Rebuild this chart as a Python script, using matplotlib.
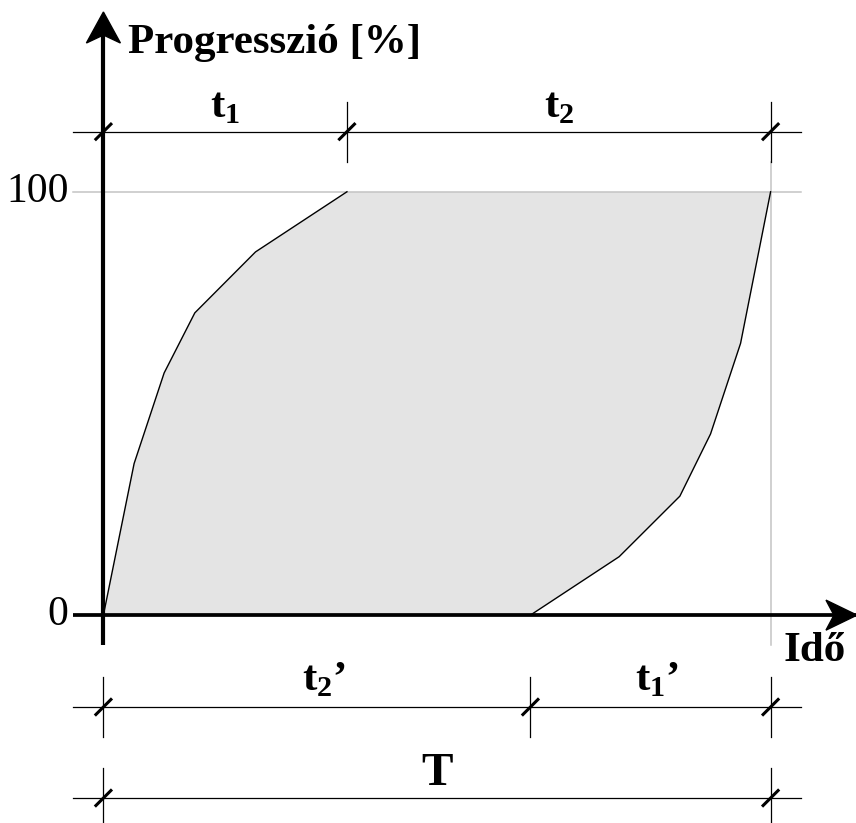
import matplotlib
matplotlib.use("Agg")
import matplotlib.pyplot as plt
import matplotlib.transforms as mtransforms
from matplotlib.patches import Polygon

plt.rcParams['font.family'] = ['Liberation Serif', 'DejaVu Serif']
plt.rcParams['mathtext.fontset'] = 'custom'
plt.rcParams['mathtext.rm'] = 'Liberation Serif'
plt.rcParams['mathtext.bf'] = 'Liberation Serif:bold'

# fast progress curve (upper edge), time in % of T, progress in %
upper_x = [0, 4.6, 9.1, 13.7, 22.8, 36.5]
upper_y = [0, 35.8, 57.2, 71.4, 85.8, 100]
# slow progress curve (lower edge)
lower_x = [64.0, 77.3, 86.4, 91.0, 95.5, 100]
lower_y = [0, 13.8, 28.1, 42.8, 64.2, 100]

y_ticks = [0, 100]
y_label = 'Progresszió [%]'
x_label = 'Idő'
T = 100
t1 = upper_x[-1]
t2p = lower_x[0]

W, H = 856, 823
fig = plt.figure(figsize=(W / 100, H / 100), dpi=100)
ax = fig.add_axes([0, 0, 1, 1])
ax.set_axis_off()
xmin, xmax = -15.5, 112.8
ymin, ymax = -49.1, 145.3
ax.set_xlim(xmin, xmax)
ax.set_ylim(ymin, ymax)

# pixel -> data helpers
px_x = (xmax - xmin) / W
px_y = (ymax - ymin) / H
ext = 30  # px overhang of construction lines

# shaded band between the two curves
poly_x = upper_x + [T] + lower_x[::-1]
poly_y = upper_y + [100] + lower_y[::-1]
ax.fill(poly_x, poly_y, color='#e4e4e4', lw=0, zorder=1)

gray = '#c4c4c4'
ax.plot([-ext * px_x, T + ext * px_x], [100, 100], color=gray, lw=1.1, zorder=2)

top_dim = 114.2
mid_dim = -21.7
bot_dim = -43.2
ax.plot([T, T], [-ext * px_y, top_dim - ext * px_y], color=gray, lw=1.1, zorder=2)

ax.plot(upper_x, upper_y, color='black', lw=1.0, zorder=3)
ax.plot(lower_x, lower_y, color='black', lw=1.0, zorder=3)

# main axes
ax.plot([-ext * px_x, T + 112], [0, 0], color='black', lw=2.7, zorder=4, solid_capstyle='butt')
ax.plot([0, 0], [-ext * px_y, ymax - 35 * px_y], color='black', lw=3.0, zorder=4, solid_capstyle='butt')


def arrow_head(x, y, direction):
    # notched arrow head, vertices in px relative to the tip
    if direction == 'up':
        verts = [(0, 0), (-17, -31), (0, -23), (17, -31)]
    else:
        verts = [(0, 0), (-31, 15), (-23, 0), (-31, -15)]
    tr = mtransforms.Affine2D().scale(1.0) + mtransforms.ScaledTranslation(x, y, ax.transData)
    ax.add_patch(Polygon(verts, closed=True, color='black', transform=tr, zorder=5))


arrow_head(0, ymax - 12 * px_y, 'up')
arrow_head(xmax + 1 * px_x, 0, 'right')

for v in y_ticks:
    ax.annotate(str(v), xy=(0, v), xytext=(-25, 0), textcoords='offset points',
                ha='right', va='center', fontsize=30)

ax.text(3.7, 132.7, y_label, fontsize=31, fontweight='bold', ha='left', va='baseline')
ax.text(102.0, -10.8, x_label, fontsize=31, fontweight='bold', ha='left', va='baseline')


def dim_line(y, marks, extend_marks):
    ax.plot([-ext * px_x, T + ext * px_x], [y, y], color='black', lw=0.9, zorder=4)
    for m in extend_marks:
        ax.plot([m, m], [y - ext * px_y, y + ext * px_y], color='black', lw=0.9, zorder=4)
    for m in marks:
        ax.plot([m - 7.5 * px_x, m + 7.5 * px_x], [y - 7.5 * px_y, y + 7.5 * px_y],
                color='black', lw=2.2, zorder=5)


dim_line(top_dim, [0, t1, T], [t1, T])
dim_line(mid_dim, [0, t2p, T], [0, t2p, T])
dim_line(bot_dim, [0, T], [0, T])


def dim_text(x0, x1, y, label, gap, size=31, dx=0):
    ax.annotate(label, xy=((x0 + x1) / 2, y), xytext=(dx, gap), textcoords='offset points',
                ha='center', va='baseline', fontsize=size, fontweight='bold')


dim_text(0, t1, top_dim, r'$\mathbf{t}_\mathbf{1}$', 10.5)
dim_text(t1, T, top_dim, r'$\mathbf{t}_\mathbf{2}$', 10.5)
dim_text(0, t2p, mid_dim, r'$\mathbf{t}_\mathbf{2}$’', 12.5, dx=5)
dim_text(t2p, T, mid_dim, r'$\mathbf{t}_\mathbf{1}$’', 12.5, dx=5)
dim_text(0, T, bot_dim, 'T', 9.5, size=34)

fig.savefig('out.png', dpi=100)
